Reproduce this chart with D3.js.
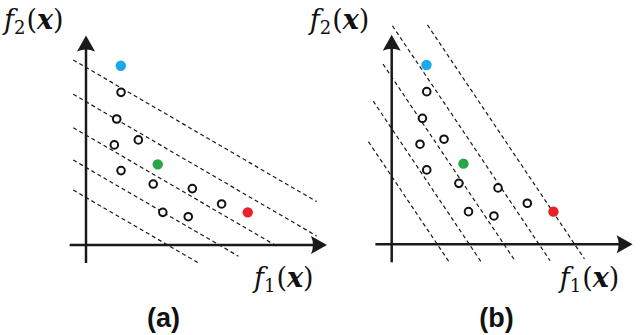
<!DOCTYPE html>
<html>
<head>
<meta charset="utf-8">
<script src="https://cdn.jsdelivr.net/npm/d3@7"></script>
<style>
  body { margin: 0; background: #fff; }
  .math { font-family: "DejaVu Serif", "Liberation Serif", serif; fill: #111; }
  .panel-label { font-family: "Liberation Sans", Arial, sans-serif; font-weight: bold; fill: #111; }
</style>
</head>
<body>
<script>
// objective values of the candidate solutions (same set in both panels)
var solF1 = [1.46, 1.28, 1.18, 2.18, 1.46, 2.80, 4.43, 5.65, 3.20, 4.26];
var solF2 = [6.36, 5.25, 4.17, 4.38, 3.10, 2.54, 2.35, 1.71, 1.36, 1.18];

// highlighted solutions
var hiF1 = [1.45, 2.99, 6.74];
var hiF2 = [7.47, 3.36, 1.36];
var hiColor = ["#1aa9ea", "#2aa548", "#e8202a"];

// weighted-sum contour lines: f2 = level - slope * f1, drawn between f1 start and end
var slopeA = 0.582;
var levelsA = [7.40, 5.97, 4.58, 3.23, 1.98];
var startA = [-0.53, -0.53, -0.53, -0.53, -0.53];
var endA = [9.61, 9.61, 7.95, 6.35, 4.68];

var slopeB = 1.49;
var levelsB = [11.36, 9.15, 6.97, 4.82, 2.83];
var startB = [1.49, 0.03, -0.36, -0.77, -0.97];
var endB = [8.03, 6.60, 5.12, 3.75, 2.40];

var panelNames = ["(a)", "(b)"];

var width = 640, height = 335;
var svg = d3.select("body").append("svg")
  .attr("width", width)
  .attr("height", height);

function drawPanel(ox, oy, slope, levels, starts, ends, name, nameX) {
  var x = d3.scaleLinear().domain([0, 10]).range([ox, ox + 240]);
  var y = d3.scaleLinear().domain([0, 10]).range([oy, oy - 240]);
  var g = svg.append("g");

  // dashed contour lines
  var lines = levels.map(function(c, i) {
    return { c: c, a: starts[i], b: ends[i] };
  });
  g.selectAll("line.contour")
    .data(lines)
    .enter().append("line")
    .attr("class", "contour")
    .attr("x1", d => x(d.a))
    .attr("y1", d => y(d.c - slope * d.a))
    .attr("x2", d => x(d.b))
    .attr("y2", d => y(d.c - slope * d.b))
    .style("stroke", "#1a1a1a")
    .style("stroke-width", 1.2)
    .style("stroke-dasharray", "4,3");

  // axes
  var f1min = -0.68, f1max = 10.04, f2min = -0.75, f2max = 8.73;
  g.append("line")
    .attr("x1", x(f1min)).attr("y1", y(0))
    .attr("x2", x(f1max) - 8).attr("y2", y(0))
    .style("stroke", "#1a1a1a").style("stroke-width", 2.5);
  g.append("line")
    .attr("x1", x(0)).attr("y1", y(f2min))
    .attr("x2", x(0)).attr("y2", y(f2max) + 8)
    .style("stroke", "#1a1a1a").style("stroke-width", 2.5);

  // arrow heads
  var tx = x(f1max), ty = y(0);
  g.append("path")
    .attr("d", "M" + tx + "," + ty + " L" + (tx - 16) + "," + (ty - 9) +
               " Q" + (tx - 12) + "," + ty + " " + (tx - 16) + "," + (ty + 9) + " Z")
    .style("fill", "#1a1a1a");
  var vx = x(0), vy = y(f2max);
  g.append("path")
    .attr("d", "M" + vx + "," + vy + " L" + (vx - 9) + "," + (vy + 16) +
               " Q" + vx + "," + (vy + 12) + " " + (vx + 9) + "," + (vy + 16) + " Z")
    .style("fill", "#1a1a1a");

  // open circles
  var sols = solF1.map(function(v, i) { return { f1: v, f2: solF2[i] }; });
  g.selectAll("circle.sol")
    .data(sols)
    .enter().append("circle")
    .attr("class", "sol")
    .attr("cx", d => x(d.f1))
    .attr("cy", d => y(d.f2))
    .attr("r", 3.8)
    .style("fill", "#fff")
    .style("stroke", "#111")
    .style("stroke-width", 2);

  // coloured solutions
  var hi = hiF1.map(function(v, i) { return { f1: v, f2: hiF2[i], c: hiColor[i] }; });
  g.selectAll("circle.hi")
    .data(hi)
    .enter().append("circle")
    .attr("class", "hi")
    .attr("cx", d => x(d.f1))
    .attr("cy", d => y(d.f2))
    .attr("r", 5.2)
    .style("fill", d => d.c);

  // axis labels
  mathLabel(g, ox - 82, 29, "2");
  mathLabel(g, ox + 168, 287, "1");

  g.append("text")
    .attr("class", "panel-label")
    .attr("x", nameX)
    .attr("y", 327)
    .attr("text-anchor", "middle")
    .style("font-size", "27px")
    .text(name);
}

function mathLabel(g, lx, ly, sub) {
  var t = g.append("text")
    .attr("class", "math")
    .attr("x", lx)
    .attr("y", ly)
    .style("font-size", "27px");
  t.append("tspan").style("font-style", "italic").text("f");
  t.append("tspan").attr("dy", 5).style("font-size", "18px").text(sub);
  t.append("tspan").attr("dy", -5).attr("dx", 1).text("(");
  t.append("tspan").style("font-style", "italic").style("font-weight", "bold").text("x");
  t.append("tspan").text(")");
}

drawPanel(86, 245, slopeA, levelsA, startA, endA, panelNames[0], 163.5);
drawPanel(391.7, 244.3, slopeB, levelsB, startB, endB, panelNames[1], 496.5);
</script>
</body>
</html>
